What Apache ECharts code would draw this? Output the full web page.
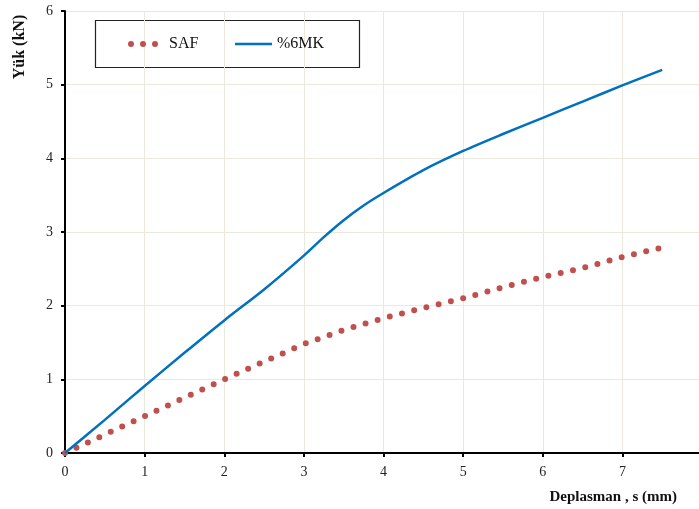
<!DOCTYPE html>
<html>
<head>
<meta charset="utf-8">
<script src="https://cdn.jsdelivr.net/npm/echarts@6/dist/echarts.min.js"></script>
<style>html,body{margin:0;padding:0;background:#fff;}#c{width:699px;height:509px;}</style>
</head>
<body>
<div id="c"></div>
<script>
const safX = [0, 0.5, 1, 1.5, 2, 2.5, 3, 3.5, 4, 4.5, 5, 5.5, 6, 6.5, 7, 7.5];
const safY = [0, 0.25, 0.50, 0.75, 1.00, 1.24, 1.48, 1.67, 1.83, 1.97, 2.10, 2.25, 2.39, 2.51, 2.66, 2.79];
const mkX = [0, 0.5, 1, 1.5, 2, 2.5, 3, 3.25, 3.5, 3.75, 4, 4.5, 5, 5.5, 6, 6.5, 7, 7.5];
const mkY = [0, 0.45, 0.91, 1.36, 1.80, 2.22, 2.68, 2.93, 3.16, 3.36, 3.53, 3.84, 4.10, 4.33, 4.55, 4.77, 4.99, 5.20];
const xTicks = [0, 1, 2, 3, 4, 5, 6, 7, 8];
const yTicks = [0, 1, 2, 3, 4, 5, 6];
const seriesNames = ['SAF', '%6MK'];
const xTitle = 'Deplasman , s (mm)';
const yTitle = 'Yük (kN)';

const font = '"Liberation Serif", "Times New Roman", serif';
const chart = echarts.init(document.getElementById('c'), null, {renderer: 'canvas'});
const zip = (xs, ys) => xs.map((x, i) => [x, ys[i]]);
const dotsIcon = 'path://M0,3a3,3 0 1,0 6,0a3,3 0 1,0 -6,0M12,3a3,3 0 1,0 6,0a3,3 0 1,0 -6,0M24,3a3,3 0 1,0 6,0a3,3 0 1,0 -6,0';
const legendText = {fontFamily: font, fontSize: 16, color: '#111'};

chart.setOption({
  animation: false,
  backgroundColor: '#fff',
  grid: {left: 65, right: -3, top: 11, bottom: 56, containLabel: false, outerBoundsMode: 'none'},
  legend: [
    {
      left: 128, top: 36, padding: 0,
      textStyle: Object.assign({padding: [0, 0, 0, 6]}, legendText),
      data: [{name: seriesNames[0], icon: dotsIcon, itemStyle: {color: '#C0504D'}}],
      itemWidth: 30, itemHeight: 6
    },
    {
      left: 235, top: 36, padding: 0,
      textStyle: legendText,
      data: [{name: seriesNames[1], icon: 'rect', itemStyle: {color: '#0070C0'}}],
      itemWidth: 37, itemHeight: 2.5
    }
  ],
  xAxis: {
    type: 'value', min: 0, max: 8, interval: 1,
    axisLine: {lineStyle: {color: '#000', width: 2}},
    axisTick: {show: true, length: 4, lineStyle: {color: '#000', width: 2}},
    axisLabel: {margin: 12, fontFamily: font, fontSize: 14, color: '#222',
      formatter: v => xTicks.includes(v) ? String(v) : ''},
    splitLine: {show: true, lineStyle: {color: '#ECE9DC', width: 1}},
    name: xTitle, nameLocation: 'end', nameGap: -25,
    nameTextStyle: {fontFamily: font, fontSize: 15, fontWeight: 'bold', color: '#111',
      align: 'right', verticalAlign: 'top', padding: [37, 0, 0, 0]}
  },
  yAxis: {
    type: 'value', min: 0, max: 6, interval: 1,
    axisLine: {show: true, lineStyle: {color: '#000', width: 2}},
    axisTick: {show: true, length: 4, lineStyle: {color: '#000', width: 2}},
    axisLabel: {margin: 12, fontFamily: font, fontSize: 14, color: '#222',
      formatter: v => yTicks.includes(v) ? String(v) : ''},
    splitLine: {show: true, lineStyle: {color: '#ECE9DC', width: 1}}
  },
  graphic: [
    {
      type: 'rect', z: 0, silent: true,
      shape: {x: 95.5, y: 20.5, width: 264, height: 47},
      style: {fill: '#fff', stroke: '#222', lineWidth: 1.2}
    },
    {
      type: 'text', x: 20, y: 47, rotation: Math.PI / 2,
      style: {text: yTitle, fontFamily: font, fontSize: 16, fontWeight: 'bold', fill: '#111',
        align: 'center', verticalAlign: 'middle'}
    }
  ],
  series: [
    {
      name: seriesNames[0], type: 'line', data: zip(safX, safY),
      showSymbol: false, symbol: 'none', smooth: false,
      itemStyle: {color: '#C0504D'},
      lineStyle: {color: '#C0504D', width: 6, cap: 'round', type: [0, 12.6]}
    },
    {
      name: seriesNames[1], type: 'line', data: zip(mkX, mkY),
      showSymbol: false, symbol: 'none', smooth: 0.3,
      itemStyle: {color: '#0070C0'},
      lineStyle: {color: '#0070C0', width: 2.5}
    }
  ]
});
</script>
</body>
</html>
